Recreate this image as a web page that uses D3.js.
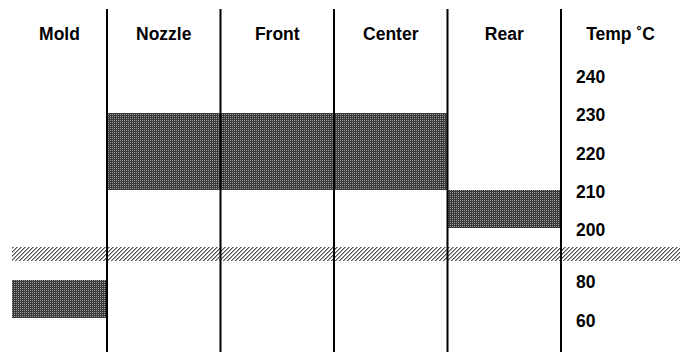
<!DOCTYPE html>
<html><head><meta charset="utf-8">
<script src="https://cdn.jsdelivr.net/npm/d3@7"></script>
<style>html,body{margin:0;padding:0;background:#fff;}svg{display:block;}</style>
</head><body>
<svg id="c" width="686" height="352"></svg>
<script>
const zones = ["Mold", "Nozzle", "Front", "Center", "Rear"];
const lowTemps = [60, 210, 210, 210, 200];
const highTemps = [80, 230, 230, 230, 210];
const axisTitle = "Temp ˚C";
const upperTicks = [240, 230, 220, 210, 200];
const lowerTicks = [80, 60];
const breakRange = [195, 90];

(function () {
const W = 686, H = 352, padLeft = 12, padRight = 680, padTop = 9;
const svg = d3.select("#c");
const defs = svg.append("defs");

// dark dotted pattern
const pd = defs.append("pattern").attr("id", "dark").attr("patternUnits", "userSpaceOnUse")
  .attr("width", 2).attr("height", 2);
pd.append("rect").attr("width", 2).attr("height", 2).attr("fill", "#3a3a3a");
pd.append("rect").attr("width", 1).attr("height", 1).attr("fill", "#9c9c9c");

// diagonal hatch pattern
const ph = defs.append("pattern").attr("id", "hatch").attr("patternUnits", "userSpaceOnUse")
  .attr("width", 4).attr("height", 4);
ph.append("rect").attr("width", 4).attr("height", 4).attr("fill", "#fff");
[[3,0],[2,1],[1,2],[0,3]].forEach(([x,y]) => {
  ph.append("rect").attr("x", x).attr("y", y).attr("width", 1).attr("height", 1).attr("fill", "#555");
  ph.append("rect").attr("x", (x+1)%4).attr("y", y).attr("width", 1).attr("height", 1).attr("fill", "#a0a0a0");
});

const x = d3.scaleBand().domain(zones).range([107 - 113.5, 561]).paddingInner(0).paddingOuter(0);
const yUp = d3.scaleLinear().domain([200, 240]).range([227.7, 75]);
const yLo = d3.scaleLinear().domain([60, 80]).range([318.3, 280]);
const yOf = v => v >= 150 ? yUp(v) : yLo(v);
const colL = z => Math.max(padLeft, x(z));
const colR = z => x(z) + x.bandwidth();

// bars
svg.append("g").selectAll("rect").data(zones).join("rect")
  .attr("x", z => colL(z))
  .attr("width", z => colR(z) - colL(z))
  .attr("y", (z, i) => yOf(highTemps[i]))
  .attr("height", (z, i) => yOf(lowTemps[i]) - yOf(highTemps[i]))
  .attr("fill", "url(#dark)")
  .attr("shape-rendering", "crispEdges");

// break band
svg.append("rect").attr("x", padLeft).attr("width", padRight - padLeft)
  .attr("y", yUp(breakRange[0])).attr("height", yLo(breakRange[1]) - yUp(breakRange[0]))
  .attr("fill", "url(#hatch)").attr("shape-rendering", "crispEdges");

// vertical separators
svg.append("g").selectAll("line").data(zones.slice(1).concat(["__end"])).join("line")
  .attr("x1", z => z === "__end" ? colR("Rear") : x(z))
  .attr("x2", z => z === "__end" ? colR("Rear") : x(z))
  .attr("y1", padTop).attr("y2", H)
  .attr("stroke", "#000").attr("stroke-width", 2);

const font = "'Liberation Sans', Arial, Helvetica, sans-serif";
// headers
svg.append("g").selectAll("text").data(zones).join("text")
  .attr("x", z => (colL(z) + colR(z)) / 2).attr("y", 40)
  .attr("text-anchor", "middle")
  .attr("font-family", font).attr("font-weight", "bold").attr("font-size", 17.5)
  .text(z => z);
svg.append("text").attr("x", (colR("Rear") + padRight) / 2).attr("y", 40)
  .attr("text-anchor", "middle")
  .attr("font-family", font).attr("font-weight", "bold").attr("font-size", 17.5)
  .text(axisTitle);

// tick labels
const tickG = svg.append("g").attr("font-family", font).attr("font-weight", "bold").attr("font-size", 17.5);
tickG.selectAll("text.u").data(upperTicks).join("text").attr("class", "u")
  .attr("x", 576).attr("y", d => yUp(d) + 8.3).text(d => d);
tickG.selectAll("text.l").data(lowerTicks).join("text").attr("class", "l")
  .attr("x", 576).attr("y", d => yLo(d) + 8.3).text(d => d);
})();
</script>
</body></html>
